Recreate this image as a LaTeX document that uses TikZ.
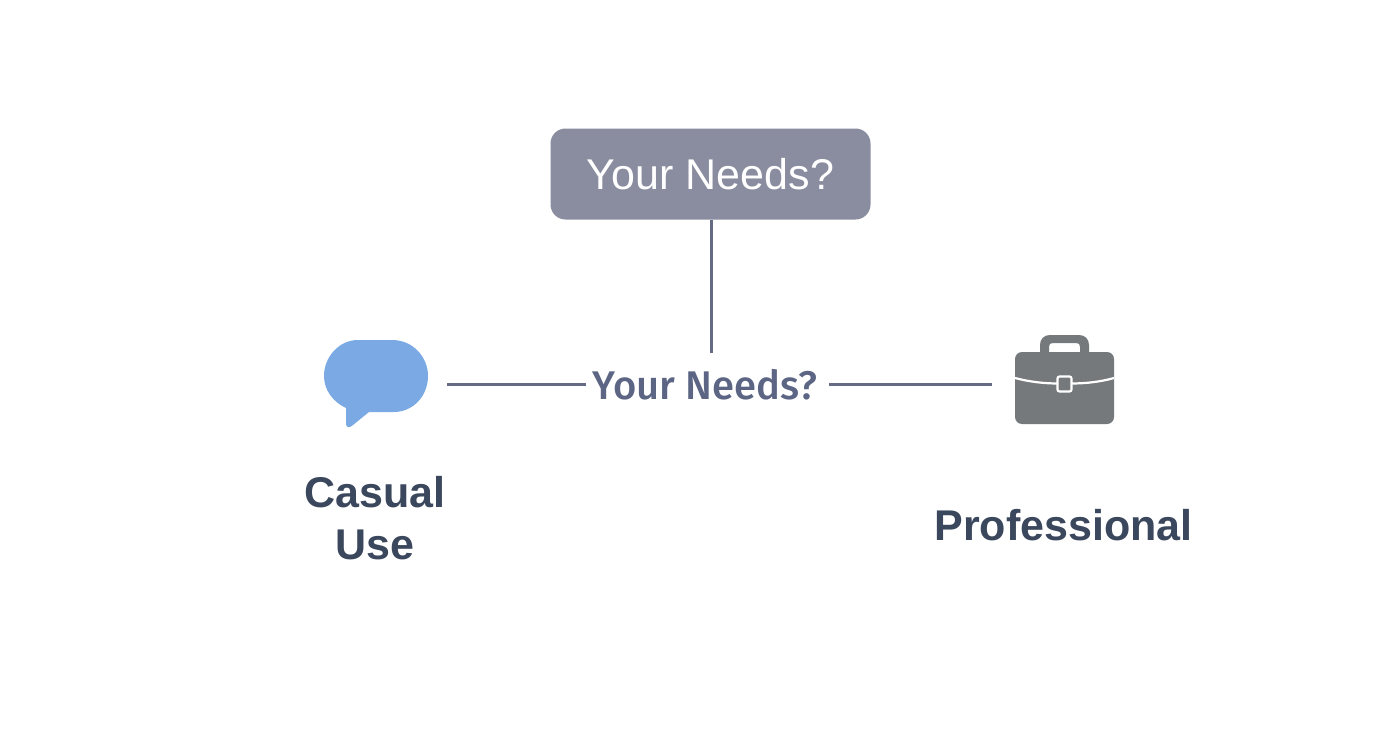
\documentclass[tikz,border=0pt]{standalone}
\usepackage{fontspec}
\setmainfont{Liberation Sans}
\newfontfamily\midfont{Fira Sans Medium}
\newfontfamily\labelfont{Liberation Sans Bold}
\definecolor{boxfill}{HTML}{8A8D9F}
\definecolor{linecol}{HTML}{666B85}
\definecolor{midtext}{HTML}{5C6684}
\definecolor{labeltext}{HTML}{3A475C}
\definecolor{bubble}{HTML}{7BA9E3}
\definecolor{caseg}{HTML}{75797C}
\tikzset{
  conn/.style={draw=linecol,line width=3pt},
  topbox/.style={draw=none,fill=boxfill,rounded corners=15pt,minimum width=320pt,minimum height=91pt,inner sep=0pt,text=white,font=\fontsize{43}{48}\selectfont},
  midlabel/.style={inner sep=0pt,minimum width=243pt,minimum height=62pt,text=midtext,font=\midfont\fontsize{40}{46}\selectfont},
  biglabel/.style={inner sep=0pt,align=center,text=labeltext,font=\labelfont\fontsize{43}{52}\selectfont}
}
\begin{document}
\begin{tikzpicture}[x=1pt,y=-1pt]
\useasboundingbox (0,0) rectangle (1392,752);
\fill[white] (0,0) rectangle (1392,752);
% bubble
\fill[bubble] (358,340) -- (392,340)
  .. controls (413,340) and (428,357) .. (428,376)
  .. controls (428,396) and (413,412) .. (394,412)
  -- (369,412) -- (353,425)
  .. controls (350,428) and (346,428) .. (346,424)
  -- (346,408)
  .. controls (333,402) and (324,390) .. (324,376)
  .. controls (324,357) and (339,340) .. (358,340) -- cycle;
% briefcase
\fill[caseg] (1040,352) -- (1040,345) .. controls (1040,339) and (1044,335) .. (1050,335)
  -- (1079,335) .. controls (1085,335) and (1089,339) .. (1089,345) -- (1089,352) -- (1080,352)
  -- (1080,347) .. controls (1080,344) and (1079,343) .. (1076,343) -- (1053,343)
  .. controls (1050,343) and (1049,344) .. (1049,347) -- (1049,352) -- cycle;
\fill[caseg,rounded corners=7pt] (1015,352) rectangle (1114,424);
\draw[white,line width=2.2pt] (1015,378) .. controls (1030,382) and (1045,383.5) .. (1058,383.5);
\draw[white,line width=2.2pt] (1071,383.5) .. controls (1085,383.5) and (1100,382) .. (1114,378);
\draw[white,line width=2.2pt,rounded corners=2pt,fill=caseg] (1057.5,376.5) rectangle (1071.5,391.5);
% nodes
\node[topbox] (needs) at (710.5,174) {Your Needs?};
\node[midlabel] (mid) at (705,385) {Your Needs?};
\coordinate (midtop) at (711,353);
\coordinate (chatend) at (447,384);
\coordinate (caseend) at (992,384);
\coordinate (midleft) at (586,384);
\coordinate (midright) at (829,384);
\node[biglabel] (casual) at (375,518) {Casual\\Use};
\node[biglabel] (prof) at (1063.5,525) {Professional};
% connectors
\draw[conn] (needs.south -| midtop) -- (midtop);
\draw[conn] (chatend) -- (midleft);
\draw[conn] (midright) -- (caseend);
\end{tikzpicture}
\end{document}
